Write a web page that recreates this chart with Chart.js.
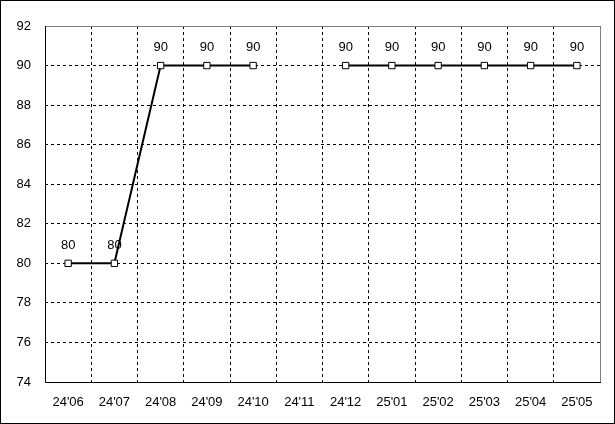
<!DOCTYPE html>
<html>
<head>
<meta charset="utf-8">
<script src="https://cdn.jsdelivr.net/npm/chart.js@4/dist/chart.umd.min.js"></script>
<style>
  html, body { margin: 0; padding: 0; background: #fff; }
  #wrap { width: 615px; height: 424px; }
</style>
</head>
<body>
<div id="wrap"><canvas id="chart" width="615" height="424"></canvas></div>
<script>
const months = ["24'06", "24'07", "24'08", "24'09", "24'10", "24'11", "24'12", "25'01", "25'02", "25'03", "25'04", "25'05"];
const values = [80, 80, 90, 90, 90, null, 90, 90, 90, 90, 90, 90];
const yMin = 74;
const yMax = 92;
const yStep = 2;

const FONT = { family: "'Liberation Sans', 'DejaVu Sans', sans-serif", size: 13 };

// frame, axis edges and the value labels over the points
const framePlugin = {
    id: 'frame',
    beforeDraw(chart) {
        const ctx = chart.ctx;
        ctx.save();
        ctx.fillStyle = '#fff';
        ctx.fillRect(0, 0, chart.width, chart.height);
        ctx.restore();
    },
    beforeDatasetsDraw(chart) {
        const ctx = chart.ctx;
        const a = chart.chartArea;
        ctx.save();
        ctx.setLineDash([]);
        ctx.lineWidth = 1;
        ctx.strokeStyle = '#808080';
        ctx.beginPath();
        ctx.moveTo(a.left, a.top + 0.5);
        ctx.lineTo(a.right + 0.5, a.top + 0.5);
        ctx.lineTo(a.right + 0.5, a.bottom);
        ctx.stroke();
        ctx.strokeStyle = '#000';
        ctx.beginPath();
        ctx.moveTo(a.left + 0.5, a.top);
        ctx.lineTo(a.left + 0.5, a.bottom + 0.5);
        ctx.lineTo(a.right + 1, a.bottom + 0.5);
        ctx.stroke();
        ctx.restore();
    },
    afterDatasetsDraw(chart) {
        const ctx = chart.ctx;
        ctx.save();
        ctx.fillStyle = '#000';
        ctx.font = FONT.size + 'px ' + FONT.family;
        ctx.textAlign = 'center';
        ctx.textBaseline = 'middle';
        const meta = chart.getDatasetMeta(0);
        meta.data.forEach((pt, i) => {
            if (values[i] === null) return;
            ctx.fillText(String(values[i]), pt.x, pt.y - 18);
        });
        ctx.strokeStyle = '#000';
        ctx.lineWidth = 1;
        ctx.strokeRect(0.5, 0.5, chart.width - 1, chart.height - 1);
        ctx.restore();
    }
};

new Chart(document.getElementById('chart'), {
    type: 'line',
    data: {
        labels: months,
        datasets: [{
            data: values,
            borderColor: '#000',
            borderWidth: 2,
            tension: 0,
            spanGaps: false,
            pointStyle: 'rect',
            pointRadius: 4.5,
            pointBorderWidth: 1,
            pointBorderColor: '#000',
            pointBackgroundColor: '#fff'
        }]
    },
    options: {
        responsive: false,
        animation: false,
        layout: { padding: { top: 26, right: 15, left: 0, bottom: 0 } },
        plugins: {
            legend: { display: false },
            tooltip: { enabled: false }
        },
        scales: {
            x: {
                offset: true,
                grid: {
                    offset: true,
                    drawTicks: false,
                    color: ctx => (ctx.index === 0 || ctx.index === months.length) ? 'rgba(0,0,0,0)' : '#000',
                    lineWidth: 1
                },
                border: { display: false, dash: [3, 3] },
                ticks: { color: '#000', font: FONT, padding: 13, maxRotation: 0, autoSkip: false },
                afterFit(scale) { scale.height = 42; }
            },
            y: {
                min: yMin,
                max: yMax,
                grid: {
                    drawTicks: false,
                    color: ctx => ctx.tick && (ctx.tick.value === yMax || ctx.tick.value === yMin) ? 'rgba(0,0,0,0)' : '#000',
                    lineWidth: 1
                },
                border: { display: false, dash: [3, 3] },
                ticks: { stepSize: yStep, color: '#000', font: FONT, padding: 14 },
                afterFit(scale) { scale.width = 45; }
            }
        }
    },
    plugins: [framePlugin]
});
</script>
</body>
</html>
